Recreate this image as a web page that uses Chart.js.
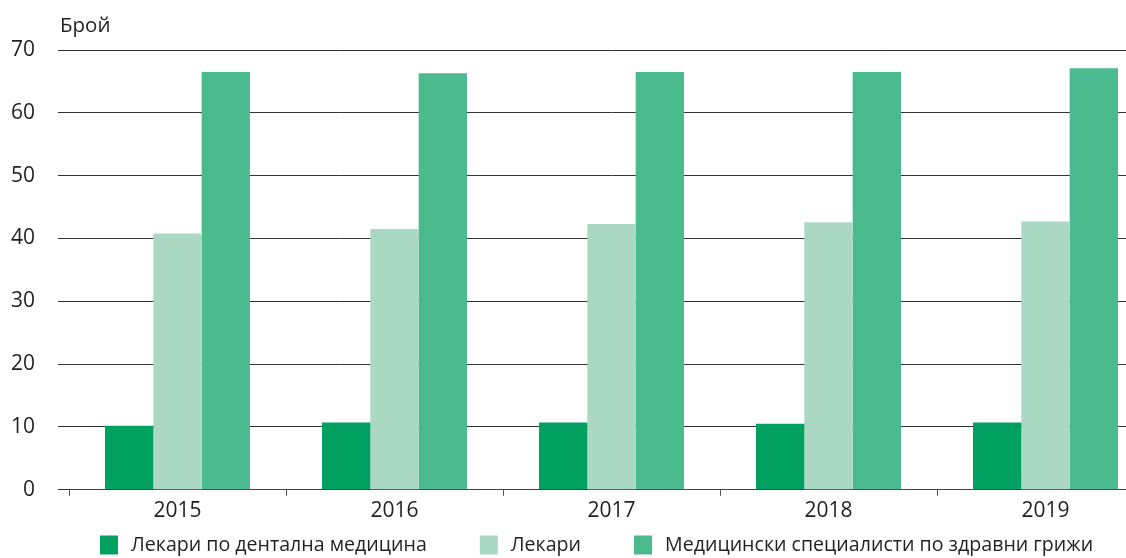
<!DOCTYPE html>
<html>
<head>
<meta charset="utf-8">
<script src="https://cdn.jsdelivr.net/npm/chart.js@4/dist/chart.umd.min.js"></script>
<style>
  html, body { margin: 0; padding: 0; background: #fff; overflow: hidden; }
  #wrap { width: 1160px; height: 558px; position: relative; }
</style>
</head>
<body>
<div id="wrap"><canvas id="chart"></canvas></div>
<script>
// Data
const years = ['2015', '2016', '2017', '2018', '2019'];
const dentists = [10.2, 10.7, 10.7, 10.5, 10.7];
const doctors = [40.8, 41.5, 42.3, 42.6, 42.7];
const healthCare = [66.5, 66.3, 66.5, 66.5, 67.1];
const yTicks = [0, 10, 20, 30, 40, 50, 60, 70];

const seriesNames = [
    'Лекари по дентална медицина',
    'Лекари',
    'Медицински специалисти по здравни грижи'
];
const colors = ['#00a160', '#aad8c2', '#4bba8e'];

const FONT = '"Open Sans", "Noto Sans", sans-serif';
const TEXT = '#231f20';

// "Брой" label above the y axis
const unitLabel = {
    id: 'unitLabel',
    afterDraw(chart) {
        const c = chart.ctx;
        c.save();
        c.font = '20.5px ' + FONT;
        c.fillStyle = TEXT;
        c.textBaseline = 'alphabetic';
        c.fillText('Брой', 60, 32);
        c.restore();
    }
};

// Legend row along the bottom, spaced like the original
const bottomLegend = {
    id: 'bottomLegend',
    afterDraw(chart) {
        const c = chart.ctx;
        c.save();
        c.font = '19.6px ' + FONT;
        c.textBaseline = 'middle';
        let x = 100;
        const y = 545;
        chart.data.datasets.forEach(ds => {
            c.fillStyle = ds.backgroundColor;
            c.fillRect(x, y - 9.5, 18, 19);
            x += 18 + 13;
            c.fillStyle = TEXT;
            c.fillText(ds.label, x, y);
            x += c.measureText(ds.label).width + 53;
        });
        c.restore();
    }
};

const ctx = document.getElementById('chart').getContext('2d');
new Chart(ctx, {
    type: 'bar',
    data: {
        labels: years,
        datasets: [dentists, doctors, healthCare].map((d, i) => ({
            label: seriesNames[i],
            data: d,
            backgroundColor: colors[i],
            borderWidth: 0,
            categoryPercentage: 0.668,
            barPercentage: 1
        }))
    },
    options: {
        responsive: true,
        maintainAspectRatio: false,
        animation: false,
        layout: { padding: { top: 50, right: 6, left: 0, bottom: 31 } },
        plugins: {
            title: { display: false },
            tooltip: { enabled: false },
            legend: { display: false }
        },
        scales: {
            x: {
                grid: {
                    offset: true,
                    drawOnChartArea: false,
                    drawTicks: true,
                    tickLength: 6,
                    color: '#555'
                },
                border: { color: '#444', width: 1 },
                ticks: {
                    color: TEXT,
                    padding: 3,
                    font: { family: FONT, size: 21 }
                }
            },
            y: {
                min: 0,
                max: 70,
                afterBuildTicks: axis => {
                    axis.ticks = yTicks.map(v => ({ value: v }));
                },
                afterFit: axis => { axis.width = 69; },
                grid: {
                    color: '#333',
                    lineWidth: 1,
                    drawTicks: true,
                    tickLength: 11
                },
                border: { display: false },
                ticks: {
                    color: TEXT,
                    padding: 23,
                    font: { family: FONT, size: 21 }
                }
            }
        }
    },
    plugins: [unitLabel, bottomLegend]
});
</script>
</body>
</html>
